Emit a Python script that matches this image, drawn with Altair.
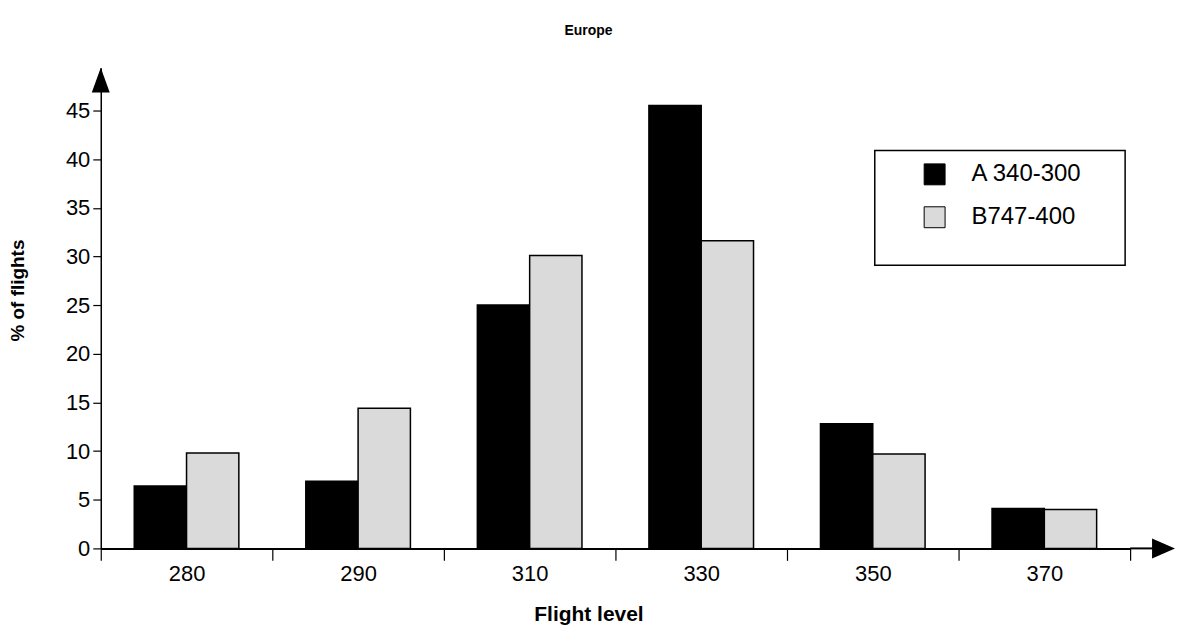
import altair as alt
import pandas as pd

levels = ["280", "290", "310", "330", "350", "370"]
series = ["A 340-300", "B747-400"]
a340 = [6.4, 6.9, 25.0, 45.5, 12.8, 4.1]
b747 = [9.8, 14.4, 30.1, 31.6, 9.7, 4.0]
y_ticks = [0, 5, 10, 15, 20, 25, 30, 35, 40, 45]

rows = []
for lv, a, b in zip(levels, a340, b747):
    rows.append({"level": lv, "aircraft": series[0], "pct": a})
    rows.append({"level": lv, "aircraft": series[1], "pct": b})
df = pd.DataFrame(rows)

W, H = 1032, 482
FONT = "Liberation Sans"

bars = alt.Chart(df).mark_bar(stroke="black", strokeWidth=1.5).encode(
    x=alt.X("level:N", sort=levels,
            scale=alt.Scale(paddingInner=0, paddingOuter=0),
            axis=alt.Axis(title="Flight level", labelAngle=0, tickBand="extent",
                          tickSize=12, tickColor="black", tickWidth=1.2,
                          domainColor="black", domainWidth=2,
                          labelFontSize=22, labelFont=FONT, labelColor="black",
                          labelPadding=3,
                          titleFontSize=21, titleFont=FONT, titleFontWeight="bold",
                          titleColor="black", titleX=489, titleY=66,
                          titleBaseline="middle", titleAnchor="start", titleAlign="center")),
    xOffset=alt.XOffset("aircraft:N", sort=series,
                        scale=alt.Scale(paddingOuter=0.64, paddingInner=0)),
    y=alt.Y("pct:Q", scale=alt.Scale(domain=[0, 49.4], nice=False),
            axis=alt.Axis(title="% of flights", values=y_ticks, grid=False,
                          tickSize=8, tickColor="black", tickWidth=1.2,
                          domainColor="black", domainWidth=1.5,
                          labelFontSize=22, labelFont=FONT, labelColor="black",
                          labelPadding=3,
                          titleFontSize=19, titleFont=FONT, titleFontWeight="bold",
                          titleColor="black", titleX=-83, titleY=223,
                          titleBaseline="middle",
                          titleAnchor="start", titleAlign="center")),
    color=alt.Color("aircraft:N", sort=series,
                    scale=alt.Scale(domain=series, range=["black", "#dadada"]),
                    legend=alt.Legend(title=None, orient="none", legendX=824, legendY=95,
                                      symbolType="square", symbolSize=440,
                                      symbolStrokeColor="black", symbolStrokeWidth=1,
                                      labelFontSize=24, labelFont=FONT, labelColor="black",
                                      labelOffset=25, rowPadding=17, padding=0)),
)

one = alt.Data(values=[{}])

legend_box = alt.Chart(one).mark_rect(fill="white", stroke="black", strokeWidth=1.5).encode(
    x=alt.value(776), x2=alt.value(1027), y=alt.value(83), y2=alt.value(198)
)

y_arrow = alt.Chart(one).mark_point(
    filled=True, color="black", size=400, strokeWidth=0,
    shape="M -0.9 2.5 L 0 0 L 0.9 2.5 Z", opacity=1
).encode(x=alt.value(0), y=alt.value(0))

x_ext = alt.Chart(one).mark_rule(color="black", strokeWidth=2).encode(
    x=alt.value(W), x2=alt.value(W + 24), y=alt.value(H)
)

x_arrow = alt.Chart(one).mark_point(
    filled=True, color="black", size=400, strokeWidth=0,
    shape="M -2.3 -1 L 0 0 L -2.3 1 Z", opacity=1
).encode(x=alt.value(W + 45), y=alt.value(H))

chart = alt.layer(legend_box, bars, y_arrow, x_ext, x_arrow).properties(
    width=W, height=H,
    background="white",
    title=alt.TitleParams("Europe", fontSize=14, font=FONT, fontWeight="bold",
                          color="black", anchor="middle", dx=-27, offset=30),
    autosize=alt.AutoSizeParams(type="none"),
    padding={"left": 93, "top": 59, "right": 45, "bottom": 77},
).configure_view(stroke="transparent", strokeWidth=0)

chart.save("out.html", embed_options={"renderer": "svg", "actions": False})
